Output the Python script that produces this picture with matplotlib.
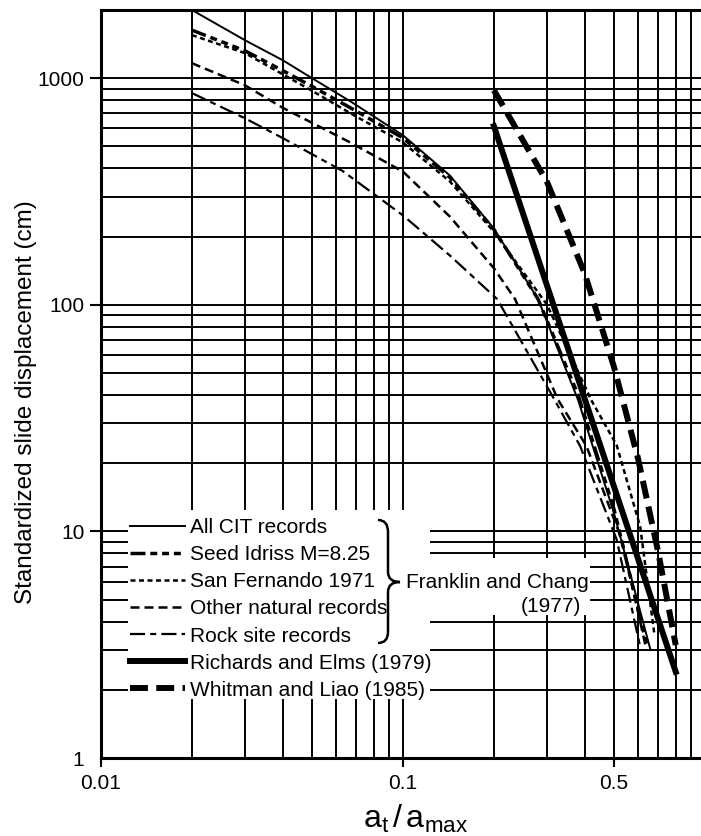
import numpy as np
import matplotlib
matplotlib.use("Agg")
import matplotlib.pyplot as plt
from matplotlib.patches import Rectangle, PathPatch
from matplotlib.path import Path
from matplotlib.ticker import FixedLocator, LogLocator, NullFormatter

plt.rcParams["font.family"] = ["Liberation Sans", "DejaVu Sans"]
plt.rcParams["mathtext.fontset"] = "custom"
plt.rcParams["mathtext.rm"] = "Liberation Sans"
plt.rcParams["mathtext.it"] = "Liberation Sans"

# Franklin and Chang (1977) curves
cit_x = [0.02, 0.03, 0.04, 0.05, 0.067, 0.1, 0.143, 0.2, 0.28, 0.38, 0.5, 0.66]
cit_y = [2000, 1470, 1200, 1000, 790, 560, 372, 217, 106, 38, 12, 3.0]

seed_x = [0.02, 0.03, 0.04, 0.05, 0.067, 0.1, 0.143, 0.2, 0.28, 0.38, 0.5, 0.64]
seed_y = [1630, 1320, 1080, 920, 740, 545, 365, 215, 106, 40, 12.5, 3.2]

sanf_x = [0.02, 0.03, 0.04, 0.05, 0.067, 0.1, 0.143, 0.2, 0.3, 0.42, 0.51, 0.61, 0.68]
sanf_y = [1550, 1290, 1040, 880, 700, 520, 350, 210, 100, 38, 24, 10.5, 3.5]

other_x = [0.02, 0.03, 0.04, 0.067, 0.1, 0.143, 0.2, 0.235, 0.325, 0.405, 0.53, 0.64]
other_y = [1165, 930, 740, 520, 387, 245, 145, 106, 38.4, 23.8, 9.2, 3.0]

rock_x = [0.02, 0.03, 0.04, 0.063, 0.1, 0.143, 0.205, 0.311, 0.386, 0.51, 0.61]
rock_y = [860, 665, 544, 390, 248, 165, 106, 40, 23.8, 9.2, 3.1]

# Richards and Elms (1979), Whitman and Liao (1985)
re_x = [0.2, 0.8]
re_y = [614, 2.4]

wl_x = [0.2, 0.3, 0.4, 0.5, 0.6, 0.7, 0.8]
wl_y = [885, 348, 137, 53, 21, 8.1, 3.15]

x_ticks = [0.01, 0.1, 0.5]
x_tick_labels = ["0.01", "0.1", "0.5"]
y_ticks = [1, 10, 100, 1000]
y_tick_labels = ["1", "10", "100", "1000"]

W, H = 701, 836
fig = plt.figure(figsize=(W / 100, H / 100), dpi=100)
# axes runs from x=0.01 to 1.0; the right edge falls just outside the picture
L, R, T, B = 101, 705, 10, 758
ax = fig.add_axes([L / W, (H - B) / H, (R - L) / W, (B - T) / H])
fx = lambda px: (px - L) / (R - L)
fy = lambda py: (B - py) / (B - T)

ax.set_xscale("log")
ax.set_yscale("log")
ax.set_xlim(0.01, 1.0)
ax.set_ylim(1, 2000)

ax.xaxis.set_major_locator(FixedLocator(x_ticks))
ax.set_xticklabels(x_tick_labels)
ax.yaxis.set_major_locator(FixedLocator(y_ticks))
ax.set_yticklabels(y_tick_labels)
for axis in (ax.xaxis, ax.yaxis):
    axis.set_minor_locator(LogLocator(base=10, subs=np.arange(1, 10), numticks=50))
    axis.set_minor_formatter(NullFormatter())
ax.tick_params(which="minor", length=0)
ax.tick_params(axis="y", which="major", length=8, width=1.5, pad=4, labelsize=15)
ax.tick_params(axis="x", which="major", length=6.5, width=1.5, pad=5, labelsize=15)
ax.yaxis.get_major_ticks()[0].tick1line.set_visible(False)

ax.set_axisbelow(True)
ax.grid(which="both", color="black", lw=1.4)
for s in ("left", "bottom", "top"):
    ax.spines[s].set_linewidth(2.2)
ax.spines["right"].set_visible(False)

# white areas behind the key and the bracket note
ax.add_patch(Rectangle((fx(128), fy(699)), fx(430) - fx(128), fy(510) - fy(699),
                       transform=ax.transAxes, fc="white", ec="none", zorder=1))
ax.add_patch(Rectangle((fx(430), fy(615)), fx(590) - fx(430), fy(558) - fy(615),
                       transform=ax.transAxes, fc="white", ec="none", zorder=1))

ax.plot(cit_x, cit_y, color="black", lw=1.4, label="All CIT records", zorder=3)
ax.plot(seed_x, seed_y, color="black", lw=2.5, dashes=(4.3, 1.4, 2, 1.4, 2, 1.4, 2, 1.4),
        label="Seed Idriss M=8.25", zorder=3)
ax.plot(sanf_x, sanf_y, color="black", lw=1.8, dashes=(2, 1.4),
        label="San Fernando 1971", zorder=3)
ax.plot(other_x, other_y, color="black", lw=1.8, dashes=(3.6, 2),
        label="Other natural records", zorder=3)
ax.plot(rock_x, rock_y, color="black", lw=1.6, dashes=(6.8, 2.3, 2.7, 2.3),
        label="Rock site records", zorder=3)
ax.plot(re_x, re_y, color="black", lw=4.3, label="Richards and Elms (1979)", zorder=3)
ax.plot(wl_x, wl_y, color="black", lw=4.3, dashes=(3, 1.4),
        label="Whitman and Liao (1985)", zorder=3)

ax.legend(loc="upper left", bbox_to_anchor=(fx(130), fy(518)), frameon=False,
          fontsize=15, handlelength=2.65, handletextpad=0.25, labelspacing=0.39,
          borderpad=0, borderaxespad=0)

# brace grouping the Franklin and Chang curves
verts = [(fx(378), fy(520)), (fx(388), fy(520)), (fx(388), fy(532)),
         (fx(388), fy(572)), (fx(388), fy(582)), (fx(400), fy(582)),
         (fx(388), fy(582)), (fx(388), fy(592)),
         (fx(388), fy(632)), (fx(388), fy(643)), (fx(378), fy(643))]
codes = [Path.MOVETO, Path.CURVE3, Path.CURVE3, Path.LINETO, Path.CURVE3, Path.CURVE3,
         Path.CURVE3, Path.CURVE3, Path.LINETO, Path.CURVE3, Path.CURVE3]
ax.add_patch(PathPatch(Path(verts, codes), transform=ax.transAxes, fc="none",
                       ec="black", lw=1.8, zorder=5))
ax.text(fx(406), fy(583), "Franklin and Chang", transform=ax.transAxes,
        ha="left", va="center", fontsize=15, zorder=5)
ax.text(fx(581), fy(607), "(1977)", transform=ax.transAxes,
        ha="right", va="center", fontsize=15, zorder=5)

ax.set_ylabel("Standardized slide displacement (cm)", fontsize=17.5)
ax.yaxis.set_label_coords(fx(37), fy(402))
ax.set_xlabel(r"$\mathregular{a_t\,/\,a_{max}}$", fontsize=23)
ax.xaxis.set_label_coords(fx(416), fy(835))
ax.xaxis.label.set_va("bottom")

fig.savefig("out.png", dpi=100)
